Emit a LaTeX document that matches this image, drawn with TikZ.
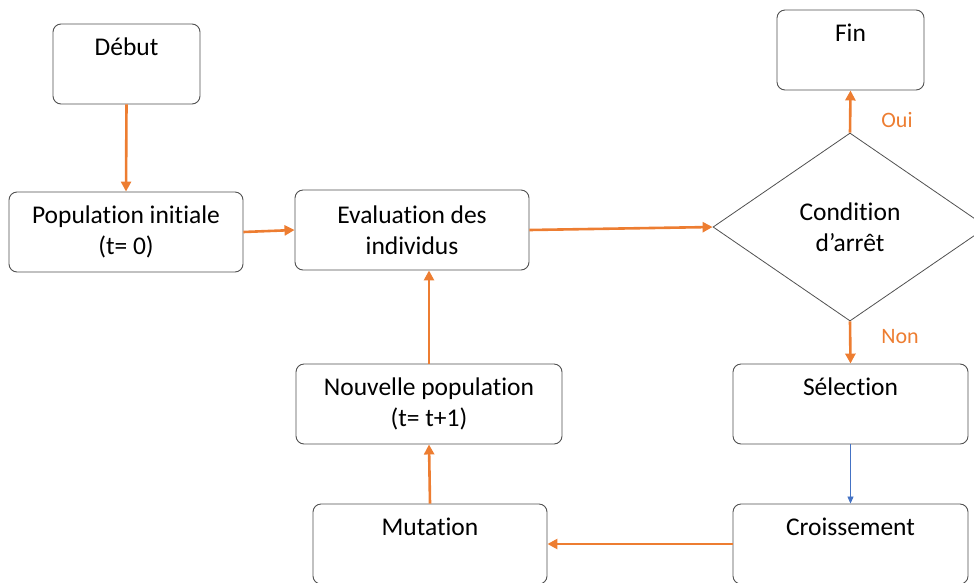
\documentclass[tikz,border=0pt]{standalone}
\usepackage{fontspec}
\setmainfont{Carlito}[RawFeature=-liga]
\usetikzlibrary{shapes.geometric,arrows.meta}
\definecolor{orng}{HTML}{ED7D31}
\definecolor{blu}{HTML}{4472C4}
\definecolor{boxgray}{HTML}{505050}
\newcommand{\secline}{\vphantom{(t}}
\tikzset{
  box/.style={draw=boxgray, rounded corners=8pt, line width=0.9pt, minimum width=#1, minimum height=80pt, align=center, inner sep=0pt, font=\fontsize{25.5}{31}\selectfont},
  box/.default=235pt,
  oarrow/.style={draw=orng, line width=2.6pt, -{Triangle[length=10pt,width=10pt]}},
  barrow/.style={draw=blu, line width=0.8pt, -{Triangle[length=7pt,width=6pt]}},
  lbl/.style={text=orng, font=\fontsize{22}{24}\selectfont, inner sep=0pt}
}
\begin{document}
\begin{tikzpicture}[x=1pt,y=-1pt]
\useasboundingbox (0,0) rectangle (974,582);
\clip (0,0) rectangle (974,582);
\node[box=147pt] (debut) at (126.5,64) {Début\\\secline};
\node[box=234pt] (pop) at (126,232) {Population initiale\\(t= 0)};
\node[box=234pt] (eval) at (412,230) {Evaluation des\\individus};
\node[box=147pt] (fin) at (850.5,50) {Fin\\\secline};
\node[diamond, draw=boxgray, line width=0.8pt, minimum width=274pt, minimum height=188pt, inner sep=0pt, aspect=1.457, align=center, font=\fontsize{25.5}{31}\selectfont] (cond) at (850,227) {Condition\\d’arrêt};
\node[box=235pt] (sel) at (850.5,404) {Sélection\\\secline};
\node[box=235pt] (cross) at (850.5,544) {Croissement\\\secline};
\node[box=234pt] (mut) at (430,544) {Mutation\\\secline};
\node[box=266pt] (nouv) at (429,404) {Nouvelle population\\(t= t+1)};
\node[lbl] (oui) at (897,120) {Oui};
\node[lbl] (non) at (900,337) {Non};
\draw[oarrow] (debut.south) -- (pop.north);
\draw[oarrow] (pop.east) -- (eval.west);
\draw[oarrow] (eval.east) -- (cond.west);
\draw[oarrow] (cond.north) -- (fin.south);
\draw[oarrow] (cond.south) -- (sel.north);
\draw[barrow] (sel.south) -- (cross.north);
\draw[oarrow] (cross.west) -- (mut.east);
\draw[oarrow] (mut.north) -- (nouv.south);
\draw[oarrow] (nouv.north) -- (nouv.north |- eval.south);
\end{tikzpicture}
\end{document}
